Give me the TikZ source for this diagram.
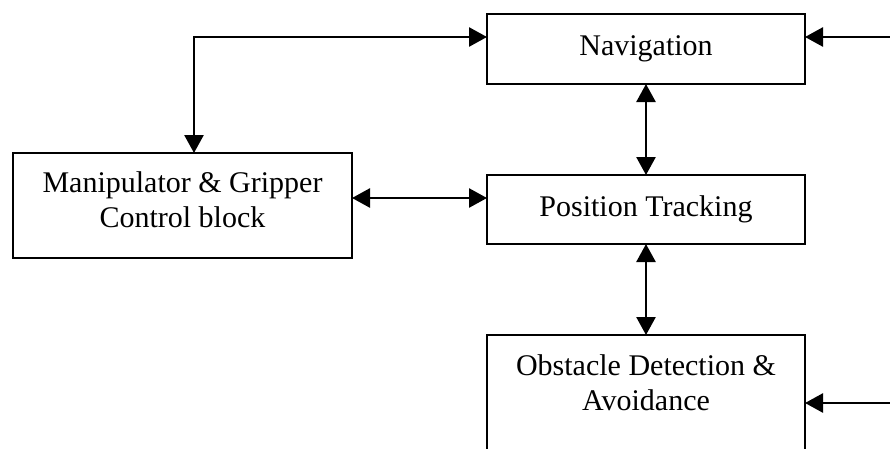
\documentclass[tikz,border=0pt]{standalone}
\usepackage{fontspec}
\setmainfont{Liberation Serif}
\usetikzlibrary{arrows.meta,positioning}

\begin{document}
\begin{tikzpicture}[
  x=1pt, y=-1pt,
  node distance=91pt and 135pt,
  box/.style={draw, line width=2.6pt, outer sep=0pt, inner sep=0pt, align=center,
              minimum width=318pt, font=\fontsize{30}{35}\selectfont},
  arr/.style={line width=2.6pt, >={Triangle[length=18pt, width=19pt]}},
]
\useasboundingbox (0,0) rectangle (890,448);
\clip (0,0) rectangle (890,448);
\node[box, minimum height=70pt] (nav) at (646,49) {Navigation};
\node[box, minimum height=69pt, below=of nav] (pos) {Position Tracking};
\node[box, minimum height=120pt, text depth=25.5pt, below=of pos] (obs)
{Obstacle Detection \&\\ Avoidance};
\node[box, minimum width=339pt, minimum height=105pt, text depth=12.5pt,
      left=of pos, yshift=4pt] (manip) {Manipulator \& Gripper\\ Control block};
\coordinate (bend) at (194,37);
\coordinate (link) at (420,198);
\coordinate (navin) at (900,37);
\coordinate (obsin) at (900,403);
\draw[arr, <->] (nav.west |- bend) -- (bend) -- (manip.north -| bend);
\draw[arr, <->] (manip.east |- link) -- (pos.west |- link);
\draw[arr, <->] (nav) -- (pos);
\draw[arr, <->] (pos) -- (obs);
\draw[arr, ->] (navin) -- (nav.east |- navin);
\draw[arr, ->] (obsin) -- (obs.east |- obsin);
\end{tikzpicture}
\end{document}
